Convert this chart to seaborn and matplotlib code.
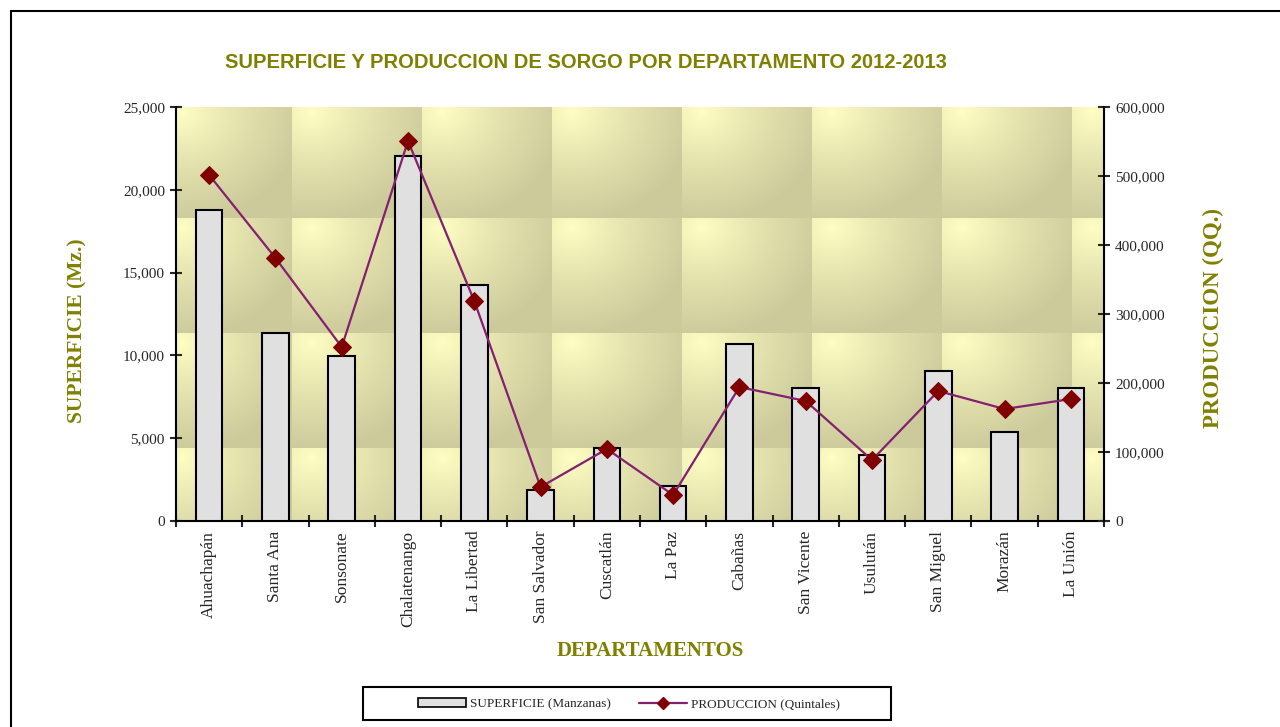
import numpy as np
import pandas as pd
import matplotlib
matplotlib.use("Agg")
import matplotlib.pyplot as plt
import seaborn as sns
from matplotlib.lines import Line2D
from matplotlib.patches import Rectangle, Patch
from matplotlib.ticker import FuncFormatter, MultipleLocator, FixedLocator

# data
departamentos = ["Ahuachapán", "Santa Ana", "Sonsonate", "Chalatenango", "La Libertad",
                 "San Salvador", "Cuscatlán", "La Paz", "Cabañas", "San Vicente",
                 "Usulután", "San Miguel", "Morazán", "La Unión"]
superficie = [18780, 11350, 9960, 22040, 14250, 1870, 4410, 2110, 10690, 8030,
              3990, 9060, 5380, 8030]
produccion = [501500, 381200, 252200, 550700, 318800, 49300, 104400, 37700, 194200,
              173900, 88400, 188400, 162300, 176800]

df = pd.DataFrame({"departamento": departamentos, "superficie": superficie,
                   "produccion": produccion, "pos": np.arange(len(departamentos))})

sns.set_style("ticks")
plt.rcParams["font.family"] = ["Liberation Serif", "DejaVu Serif"]
olive = "#808000"

fig = plt.figure(figsize=(12.8, 7.27), dpi=100)
ax = fig.add_axes([176 / 1280, 1 - 521 / 727, 928 / 1280, 414 / 727])

sns.barplot(data=df, x="departamento", y="superficie", ax=ax, color="#e0e0e0",
            edgecolor="black", linewidth=1.5, width=0.4, saturation=1, zorder=3)

# tiled gradient background of the plot area
W, H = 928, 414
px = np.arange(W)
py = np.arange(H)
xl = ((px - 116) % 130) / 130.0
yl = ((py - 111) % 115) / 115.0
XX, YY = np.meshgrid(xl, yl)
t = np.clip(np.hypot(XX - 0.15, YY - 0.08) / 0.95, 0, 1) ** 0.85
light = np.array([255, 255, 196]) / 255
dark = np.array([204, 202, 155]) / 255
img = light[None, None, :] * (1 - t[..., None]) + dark[None, None, :] * t[..., None]
ax.imshow(img, extent=(-0.5, 13.5, 0, 25000), aspect="auto", zorder=0,
          interpolation="bilinear")
ax.set_xlim(-0.5, 13.5)
ax.set_ylim(0, 25000)

ax2 = ax.twinx()
sns.lineplot(data=df, x="pos", y="produccion", ax=ax2, color="#842070", linewidth=1.6,
             marker="D", markersize=9.5, markerfacecolor="#800000",
             markeredgecolor="#800000", zorder=4)
ax2.set_ylim(0, 600000)
ax2.set_xlim(-0.5, 13.5)

fmt = FuncFormatter(lambda v, p: f"{int(v):,}")
ax.yaxis.set_major_locator(MultipleLocator(5000))
ax.yaxis.set_major_formatter(fmt)
ax2.yaxis.set_major_locator(MultipleLocator(100000))
ax2.yaxis.set_major_formatter(fmt)

for a in (ax, ax2):
    for s in a.spines.values():
        s.set_color("black")
        s.set_linewidth(1.5)
    a.spines["top"].set_visible(False)
ax.spines["right"].set_visible(False)
ax2.spines["left"].set_visible(False)
ax2.spines["bottom"].set_visible(False)

ax.tick_params(axis="y", direction="inout", length=8, width=1.5, labelsize=11, pad=4)
ax2.tick_params(axis="y", direction="inout", length=8, width=1.5, labelsize=11, pad=4)
ax.set_xticks(np.arange(len(departamentos)))
ax.set_xticklabels(departamentos, rotation=90, fontsize=12.5)
ax.tick_params(axis="x", which="major", length=0, pad=7)
ax.xaxis.set_minor_locator(FixedLocator(np.arange(-0.5, len(departamentos), 1)))
ax.tick_params(axis="x", which="minor", direction="inout", length=8, width=1.5)

ax.set_xlabel("DEPARTAMENTOS", fontsize=15, fontweight="bold", color=olive)
ax.xaxis.set_label_coords(0.511, -0.29)
ax.set_ylabel("SUPERFICIE (Mz.)", fontsize=15.5, fontweight="bold", color=olive)
ax.yaxis.set_label_coords(-0.095, 0.46)
ax2.set_ylabel("PRODUCCION (QQ.)", fontsize=16.5, fontweight="bold", color=olive,
               rotation=90)
ax2.yaxis.set_label_coords(1.107, 0.49)

fig.text(586 / 1280, 1 - 63 / 727,
         "SUPERFICIE Y PRODUCCION DE SORGO POR DEPARTAMENTO 2012-2013",
         ha="center", va="center", fontsize=14.5, fontweight="bold", color=olive,
         family=["Liberation Sans"])

# outer frame
fig.add_artist(Line2D([11 / 1280, 11 / 1280], [0, 1 - 11 / 727], color="black", lw=1.5,
                      transform=fig.transFigure))
fig.add_artist(Line2D([11 / 1280, 1], [1 - 11 / 727, 1 - 11 / 727], color="black", lw=1.5,
                      transform=fig.transFigure))

# legend
fig.add_artist(Rectangle((363 / 1280, 1 - 720 / 727), 528 / 1280, 33 / 727,
                         transform=fig.transFigure, fill=False, edgecolor="black", lw=1.5))
handles = [Patch(facecolor="#e0e0e0", edgecolor="black", linewidth=1.2),
           Line2D([0], [0], color="#842070", lw=1.6, marker="D", markersize=6,
                  markerfacecolor="#800000", markeredgecolor="#800000")]
fig.legend(handles, ["SUPERFICIE (Manzanas)", "PRODUCCION (Quintales)"],
           loc="center", bbox_to_anchor=(629 / 1280, 1 - 704 / 727), ncol=2,
           frameon=False, fontsize=9.5, handlelength=3.6, handleheight=0.6,
           columnspacing=2.2, handletextpad=0.3)

fig.savefig("out.png", dpi=100)
